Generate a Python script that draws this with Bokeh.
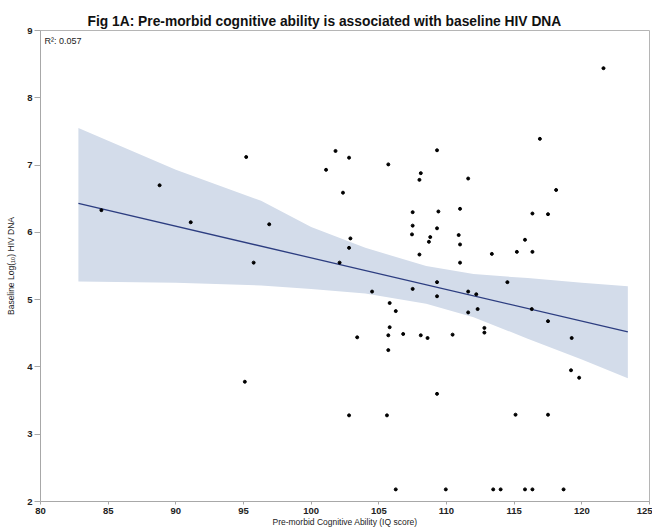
from bokeh.plotting import figure
from bokeh.models import Range1d, Label, FixedTicker
from bokeh.embed import file_html
from bokeh.resources import INLINE

# ---- data ----
iq = [84.5, 88.8, 91.1, 95.2, 95.75, 96.9, 101.8, 102.8, 101.1, 102.35,
      105.7, 108.1, 108.0, 107.5, 107.5, 107.45, 108.8, 108.7, 102.9, 102.8,
      108.0, 102.1, 104.5, 107.5, 105.8, 106.25, 105.8, 105.7, 106.8, 108.1,
      108.6, 103.4, 105.7, 95.1, 102.8, 105.6, 106.25, 111.6, 112.3, 116.3,
      117.5, 112.8, 112.8, 110.45, 119.25, 119.2, 119.8, 109.3, 115.1, 117.5,
      109.95, 113.45, 114.0, 115.8, 116.35, 118.65, 121.6, 116.9, 109.3, 111.6,
      118.1, 109.4, 111.0, 116.35, 117.5, 109.3, 110.9, 111.0, 115.8, 113.35,
      115.2, 116.35, 111.0, 109.3, 114.5, 109.3, 111.6, 112.2]
hiv_dna = [6.33, 6.70, 6.15, 7.12, 5.55, 6.12, 7.21, 7.11, 6.93, 6.59,
           7.01, 6.88, 6.78, 6.30, 6.10, 5.97, 5.93, 5.86, 5.91, 5.77,
           5.67, 5.55, 5.12, 5.16, 4.95, 4.83, 4.59, 4.47, 4.49, 4.47,
           4.43, 4.44, 4.25, 3.78, 3.28, 3.28, 2.18, 4.81, 4.86, 4.86,
           4.68, 4.58, 4.51, 4.48, 4.43, 3.95, 3.84, 3.60, 3.29, 3.29,
           2.18, 2.18, 2.18, 2.18, 2.18, 2.18, 8.44, 7.39, 7.22, 6.80,
           6.63, 6.31, 6.35, 6.28, 6.27, 6.06, 5.96, 5.82, 5.89, 5.68,
           5.71, 5.71, 5.55, 5.26, 5.26, 5.05, 5.12, 5.08]

fit_x = [82.8, 123.4]
fit_y = [6.43, 4.52]

band_x = [82.8, 90, 96.3, 100, 104, 108.5, 112, 116, 120, 123.4]
band_hi = [7.55, 6.93, 6.47, 6.08, 5.77, 5.50, 5.38, 5.32, 5.25, 5.20]
band_lo = [5.27, 5.25, 5.21, 5.16, 5.09, 4.94, 4.74, 4.42, 4.11, 3.83]

x_ticks = [80, 85, 90, 95, 100, 105, 110, 115, 120, 125]
y_ticks = [2, 3, 4, 5, 6, 7, 8, 9]

title_text = "Fig 1A: Pre-morbid cognitive ability is associated with baseline HIV DNA"
x_label = "Pre-morbid Cognitive Ability (IQ score)"
y_label = "Baseline Log(\u2081\u2080) HIV DNA"
r2_text = "R\u00b2: 0.057"

FONT = "Liberation Sans"

p = figure(width=652, height=529, output_backend="svg", toolbar_location=None,
           x_range=Range1d(x_ticks[0], x_ticks[-1]), y_range=Range1d(y_ticks[0], y_ticks[-1]),
           min_border_left=40, min_border_right=3, min_border_top=30, min_border_bottom=28)

p.title.text = title_text
p.title.align = "left"
p.title.offset = 47
p.title.text_font = FONT
p.title.text_font_size = "13.8px"
p.title.text_font_style = "bold"
p.title.text_color = "#111111"
p.title.standoff = 3

p.xgrid.visible = False
p.ygrid.visible = False
p.outline_line_color = "#b5b5b5"
p.outline_line_width = 1

p.varea(x=band_x, y1=band_lo, y2=band_hi, fill_color="#d3dcea", fill_alpha=1.0)
p.line(x=fit_x, y=fit_y, line_color="#2c3d80", line_width=1.3)
p.scatter(x=iq, y=hiv_dna, size=3.0, marker="circle", fill_color="black", line_color="black")

for ax in (p.xaxis[0], p.yaxis[0]):
    ax.axis_line_color = "#a8a8a8"
    ax.major_tick_line_color = "#a8a8a8"
    ax.minor_tick_line_color = None
    ax.major_tick_in = 0
    ax.major_label_text_font = FONT
    ax.major_label_text_font_style = "bold"
    ax.major_label_text_font_size = "9.5px"
    ax.major_label_text_color = "#222222"
    ax.axis_label_text_font = FONT
    ax.axis_label_text_font_style = "normal"
    ax.axis_label_text_font_size = "8.5px"
    ax.axis_label_text_color = "#222222"

p.xaxis[0].ticker = FixedTicker(ticks=x_ticks)
p.yaxis[0].ticker = FixedTicker(ticks=y_ticks)
p.xaxis[0].major_tick_out = 3
p.yaxis[0].major_tick_out = 6
p.xaxis[0].major_label_standoff = 3
p.yaxis[0].major_label_standoff = 2
p.xaxis[0].axis_label = x_label
p.yaxis[0].axis_label = y_label
p.xaxis[0].axis_label_standoff = 0
p.yaxis[0].axis_label_standoff = 8

p.add_layout(Label(x=x_ticks[0], y=y_ticks[-1], text=r2_text, x_offset=4, y_offset=-5,
                   text_baseline="top", text_font=FONT, text_font_size="9px",
                   text_color="#222222"))

open("out.html", "w").write(file_html(p, INLINE))
